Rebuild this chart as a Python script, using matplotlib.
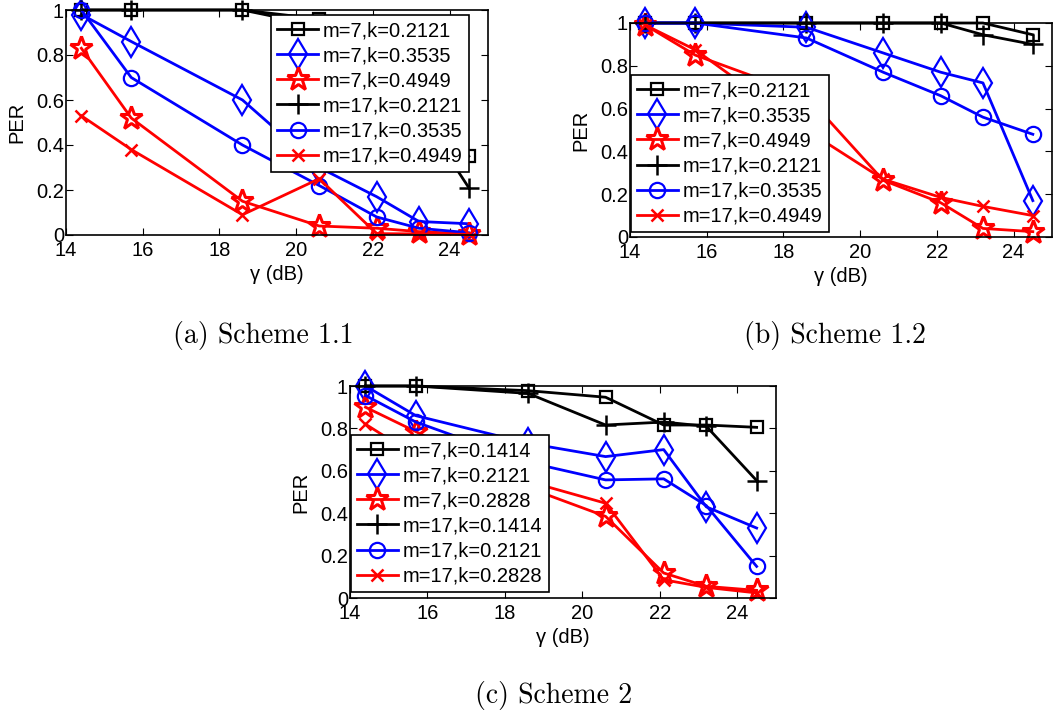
import matplotlib
matplotlib.use("Agg")
import matplotlib.pyplot as plt

# gamma (dB) sample points, shared by all three panels
gamma = [14.4, 15.7, 18.6, 20.6, 22.1, 23.2, 24.5]

# (a) Scheme 1.1
labels_a = ["m=7,k=0.2121", "m=7,k=0.3535", "m=7,k=0.4949",
            "m=17,k=0.2121", "m=17,k=0.3535", "m=17,k=0.4949"]
a_m7_k1 = [1.0, 1.0, 1.0, 0.96, 0.80, 0.60, 0.35]
a_m7_k2 = [0.98, 0.86, 0.60, 0.30, 0.17, 0.06, 0.05]
a_m7_k3 = [0.83, 0.52, 0.15, 0.04, 0.03, 0.015, 0.005]
a_m17_k1 = [1.0, 1.0, 1.0, 0.93, 0.75, 0.55, 0.21]
a_m17_k2 = [1.0, 0.70, 0.40, 0.22, 0.08, 0.03, 0.01]
a_m17_k3 = [0.53, 0.38, 0.09, 0.25, 0.006, 0.005, 0.003]

# (b) Scheme 1.2
labels_b = labels_a
b_m7_k1 = [1.0, 1.0, 1.0, 1.0, 1.0, 1.0, 0.945]
b_m7_k2 = [1.0, 1.0, 0.98, 0.86, 0.77, 0.72, 0.17]
b_m7_k3 = [0.99, 0.85, 0.66, 0.265, 0.16, 0.04, 0.025]
b_m17_k1 = [1.0, 1.0, 1.0, 1.0, 1.0, 0.945, 0.90]
b_m17_k2 = [1.0, 1.0, 0.93, 0.77, 0.66, 0.56, 0.48]
b_m17_k3 = [0.99, 0.875, 0.50, 0.27, 0.185, 0.143, 0.10]

# (c) Scheme 2
labels_c = ["m=7,k=0.1414", "m=7,k=0.2121", "m=7,k=0.2828",
            "m=17,k=0.1414", "m=17,k=0.2121", "m=17,k=0.2828"]
c_m7_k1 = [1.0, 1.0, 0.978, 0.947, 0.816, 0.816, 0.805]
c_m7_k2 = [1.0, 0.86, 0.73, 0.667, 0.70, 0.43, 0.33]
c_m7_k3 = [0.90, 0.785, 0.52, 0.385, 0.118, 0.055, 0.036]
c_m17_k1 = [1.0, 1.0, 0.965, 0.816, 0.83, 0.81, 0.554]
c_m17_k2 = [0.955, 0.83, 0.64, 0.557, 0.562, 0.436, 0.149]
c_m17_k3 = [0.82, 0.67, 0.55, 0.447, 0.086, 0.05, 0.024]

# colour / marker per series (same order as the legends)
styles = [
    dict(color="k", marker="s", ms=9, mew=1.6),
    dict(color="#0000ff", marker="d", ms=15, mew=1.6),
    dict(color="#ff0000", marker="*", ms=17, mew=2.2),
    dict(color="k", marker="+", ms=14, mew=1.8),
    dict(color="#0000ff", marker="o", ms=11, mew=1.6),
    dict(color="#ff0000", marker="x", ms=9, mew=1.8),
]

SANS = "Liberation Sans"
FS = 14.5


def draw_panel(ax, series, labels, legend_loc, legend_anchor):
    for ys, st, lab in zip(series, styles, labels):
        ax.plot(gamma, ys, color=st["color"], marker=st["marker"],
                markersize=st["ms"], markerfacecolor="none",
                markeredgewidth=st["mew"], linewidth=2, label=lab,
                clip_on=False)
    ax.set_xlim(14, 25)
    ax.set_ylim(0, 1)
    ax.set_xticks([14, 16, 18, 20, 22, 24])
    ax.set_yticks([0, 0.2, 0.4, 0.6, 0.8, 1])
    ax.set_yticklabels(["0", "0.2", "0.4", "0.6", "0.8", "1"])
    ax.tick_params(direction="in", top=True, right=True, length=5,
                   width=0.8, labelsize=FS)
    ax.tick_params(axis="x", pad=4)
    ax.tick_params(axis="y", pad=1.5)
    for lbl in ax.get_xticklabels() + ax.get_yticklabels():
        lbl.set_fontfamily(SANS)
    for sp in ax.spines.values():
        sp.set_linewidth(1.2)
    ax.set_xlabel("\u03b3 (dB)", fontsize=FS, fontfamily=SANS, labelpad=4)
    ax.set_ylabel("PER", fontsize=FS, fontfamily=SANS, labelpad=7)
    leg = ax.legend(loc=legend_loc, bbox_to_anchor=legend_anchor,
                    borderaxespad=0, fancybox=False, framealpha=1,
                    edgecolor="k", handlelength=2.0, handletextpad=0.25,
                    labelspacing=0.3, borderpad=0.32,
                    prop={"family": SANS, "size": FS})
    leg.get_frame().set_linewidth(1.2)
    leg.set_zorder(5)


fig = plt.figure(figsize=(10.6, 7.19), dpi=100)
W, H = 1060, 719

# axes boxes in pixels: left, top, right, bottom
ax_a = fig.add_axes([66 / W, 1 - 235 / H, 422 / W, 225 / H])
ax_b = fig.add_axes([630 / W, 1 - 237 / H, 422 / W, 214 / H])
ax_c = fig.add_axes([350 / W, 1 - 598 / H, 426 / W, 212 / H])

draw_panel(ax_a, [a_m7_k1, a_m7_k2, a_m7_k3, a_m17_k1, a_m17_k2, a_m17_k3],
           labels_a, "upper right", (0.955, 0.978))
draw_panel(ax_b, [b_m7_k1, b_m7_k2, b_m7_k3, b_m17_k1, b_m17_k2, b_m17_k3],
           labels_b, "lower left", (0.002, 0.023))
draw_panel(ax_c, [c_m7_k1, c_m7_k2, c_m7_k3, c_m17_k1, c_m17_k2, c_m17_k3],
           labels_c, "lower left", (0.002, 0.028))

# sub-captions in a LaTeX-like serif
cap = dict(fontsize=20, fontfamily="cmr10", ha="center", va="center")
fig.text(263 / W, 1 - 335 / H, "(a) Scheme 1.1", **cap)
fig.text(835 / W, 1 - 335 / H, "(b) Scheme 1.2", **cap)
fig.text(554 / W, 1 - 696 / H, "(c) Scheme 2", **cap)

fig.savefig("out.png", dpi=100)
